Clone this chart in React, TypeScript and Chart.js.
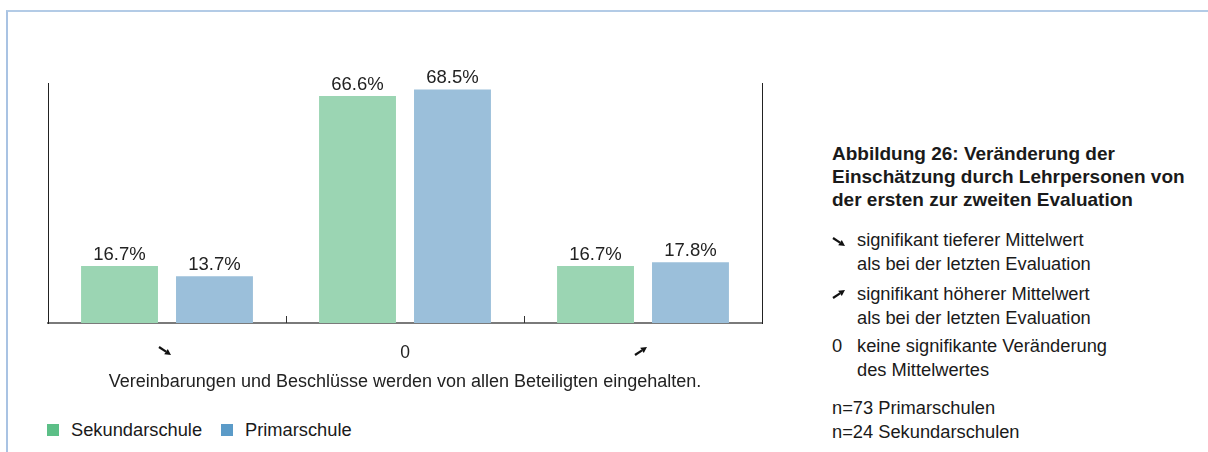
import React, { useEffect, useRef } from "react";
import { Chart, registerables } from "chart.js";

Chart.register(...registerables);

const categories = ["➘", "0", "➚"];
const seriesNames = ["Sekundarschule", "Primarschule"];
const sekundarschule = [16.7, 66.6, 16.7];
const primarschule = [13.7, 68.5, 17.8];
const axisTitle = "Vereinbarungen und Beschlüsse werden von allen Beteiligten eingehalten.";
const barColors = ["#9bd5b3", "#9bbfda"];
const legendColors = ["#5cbf87", "#5b9bc8"];

const FONT = '"Liberation Sans", "DejaVu Sans", Arial, sans-serif';
const ARROW_DOWN = "➘";
const ARROW_UP = "➚";

function drawArrow(ctx: CanvasRenderingContext2D, cx: number, cy: number, up: boolean) {
  const s = up ? -1 : 1;
  const tail = [-6, -4 * s];
  const tip = [6, 4 * s];
  const dx = 12, dy = 8 * s;
  const len = Math.hypot(dx, dy);
  const ux = dx / len, uy = dy / len;
  const nx = -uy, ny = ux;
  const hl = 6, hw = 3.2;
  const bx = tip[0] - ux * hl, by = tip[1] - uy * hl;
  ctx.save();
  ctx.translate(cx, cy);
  ctx.strokeStyle = "#111";
  ctx.fillStyle = "#111";
  ctx.lineWidth = 2.2;
  ctx.lineCap = "butt";
  ctx.beginPath();
  ctx.moveTo(tail[0], tail[1]);
  ctx.lineTo(bx, by);
  ctx.stroke();
  ctx.beginPath();
  ctx.moveTo(tip[0], tip[1]);
  ctx.lineTo(bx + nx * hw, by + ny * hw);
  ctx.lineTo(bx - nx * hw, by - ny * hw);
  ctx.closePath();
  ctx.fill();
  ctx.restore();
}

function ArrowIcon({ up }: { up: boolean }) {
  const ref = useRef<HTMLCanvasElement | null>(null);
  useEffect(() => {
    const c = ref.current;
    if (!c) return;
    const ctx = c.getContext("2d");
    if (!ctx) return;
    ctx.clearRect(0, 0, 16, 12);
    drawArrow(ctx, 8, 6, up);
  }, [up]);
  return <canvas ref={ref} width={16} height={12} style={{ display: "block" }} />;
}

const valueLabels = {
  id: "valueLabels",
  afterDatasetsDraw(chart: any) {
    const ctx = chart.ctx;
    ctx.save();
    ctx.font = `18.5px ${FONT}`;
    ctx.fillStyle = "#222";
    ctx.textAlign = "center";
    ctx.textBaseline = "alphabetic";
    chart.data.datasets.forEach((ds: any, i: number) => {
      const meta = chart.getDatasetMeta(i);
      meta.data.forEach((bar: any, j: number) => {
        const v = ds.data[j] as number;
        ctx.fillText(v.toFixed(1) + "%", bar.x, bar.y - 6);
      });
    });
    ctx.restore();
  },
};

const innerTicksAndArrows = {
  id: "innerTicksAndArrows",
  afterDraw(chart: any) {
    const ctx = chart.ctx;
    const xs = chart.scales.x;
    const bottom = chart.chartArea.bottom;
    ctx.save();
    ctx.strokeStyle = "#333";
    ctx.lineWidth = 1;
    for (let i = 1; i < categories.length; i++) {
      const px = Math.round((xs.getPixelForValue(i - 1) + xs.getPixelForValue(i)) / 2) + 0.5;
      ctx.beginPath();
      ctx.moveTo(px, bottom - 7);
      ctx.lineTo(px, bottom);
      ctx.stroke();
    }
    ctx.restore();
    categories.forEach((c, i) => {
      if (c === ARROW_DOWN || c === ARROW_UP) {
        drawArrow(ctx, xs.getPixelForValue(i) - 2, bottom + 28, c === ARROW_UP);
      }
    });
  },
};

function ChartCanvas() {
  const ref = useRef<HTMLCanvasElement | null>(null);
  useEffect(() => {
    if (!ref.current) return;
    const chart = new Chart(ref.current, {
      type: "bar",
      data: {
        labels: categories,
        datasets: [
          {
            label: seriesNames[0],
            data: sekundarschule,
            backgroundColor: barColors[0],
            categoryPercentage: 0.798,
            barPercentage: 0.81,
          },
          {
            label: seriesNames[1],
            data: primarschule,
            backgroundColor: barColors[1],
            categoryPercentage: 0.798,
            barPercentage: 0.81,
          },
        ],
      },
      options: {
        responsive: false,
        animation: false,
        layout: { padding: { left: 48, right: 38, top: 83, bottom: 0 } },
        plugins: { legend: { display: false }, tooltip: { enabled: false } },
        scales: {
          x: {
            grid: { display: false },
            border: { display: true, color: "#7a7a7a", width: 2 },
            ticks: {
              color: (c: any) =>
                c.tick && (c.tick.label === ARROW_DOWN || c.tick.label === ARROW_UP)
                  ? "rgba(0,0,0,0)"
                  : "#222",
              font: { size: 17.5, family: FONT },
              padding: 12,
            },
            title: {
              display: true,
              text: axisTitle,
              color: "#222",
              font: { size: 18, family: FONT },
              padding: { top: 0, bottom: 7 },
            },
            afterFit: (s: any) => {
              s.height = 77;
            },
          },
          y: {
            min: 0,
            max: 70.4,
            grid: { display: false },
            ticks: { display: false },
            border: { display: true, color: "#222", width: 1 },
            afterFit: (s: any) => {
              s.width = 0;
            },
          },
          y2: {
            position: "right",
            min: 0,
            max: 70.4,
            grid: { display: false },
            ticks: { display: false },
            border: { display: true, color: "#222", width: 1 },
            afterFit: (s: any) => {
              s.width = 0;
            },
          },
        },
      } as any,
      plugins: [valueLabels, innerTicksAndArrows],
    });
    return () => chart.destroy();
  }, []);
  return (
    <canvas
      ref={ref}
      width={800}
      height={400}
      style={{ position: "absolute", left: 0, top: 0, width: 800, height: 400 }}
    />
  );
}

function Line({ top, left, children, bold, size }: any) {
  return (
    <div
      style={{
        position: "absolute",
        left,
        top: top - 12,
        height: 24,
        lineHeight: "24px",
        fontSize: size || 18.3,
        fontWeight: bold ? 700 : 400,
        whiteSpace: "nowrap",
        color: "#1a1a1a",
      }}
    >
      {children}
    </div>
  );
}

function Icon({ left, top, up }: any) {
  return (
    <div style={{ position: "absolute", left, top: top - 6 }}>
      <ArrowIcon up={up} />
    </div>
  );
}

export default function App() {
  return (
    <div
      style={{
        position: "absolute",
        left: 0,
        top: 0,
        width: 1208,
        height: 452,
        overflow: "hidden",
        background: "#fff",
        fontFamily: FONT,
      }}
    >
      <div
        style={{
          position: "absolute",
          left: 6,
          top: 10,
          width: 1400,
          height: 600,
          borderTop: "2px solid #b3cbe6",
          borderLeft: "2px solid #a9c3e3",
        }}
      />
      <ChartCanvas />
      {/* legend */}
      <div style={{ position: "absolute", left: 47, top: 424, width: 12, height: 12, background: legendColors[0] }} />
      <Line left={71} top={430}>{seriesNames[0]}</Line>
      <div style={{ position: "absolute", left: 221, top: 424, width: 12, height: 12, background: legendColors[1] }} />
      <Line left={245} top={430}>{seriesNames[1]}</Line>
      {/* right panel */}
      <Line left={832} top={154} bold size={19}>Abbildung 26: Veränderung der</Line>
      <Line left={832} top={177} bold size={19}>Einschätzung durch Lehrpersonen von</Line>
      <Line left={832} top={200} bold size={19}>der ersten zur zweiten Evaluation</Line>
      <Icon left={831} top={242} up={false} />
      <Line left={857} top={240}>signifikant tieferer Mittelwert</Line>
      <Line left={857} top={264}>als bei der letzten Evaluation</Line>
      <Icon left={831} top={294} up={true} />
      <Line left={857} top={294}>signifikant höherer Mittelwert</Line>
      <Line left={857} top={318}>als bei der letzten Evaluation</Line>
      <Line left={832} top={346}>0</Line>
      <Line left={857} top={346}>keine signifikante Veränderung</Line>
      <Line left={857} top={370}>des Mittelwertes</Line>
      <Line left={832} top={408}>n=73 Primarschulen</Line>
      <Line left={832} top={432}>n=24 Sekundarschulen</Line>
    </div>
  );
}
